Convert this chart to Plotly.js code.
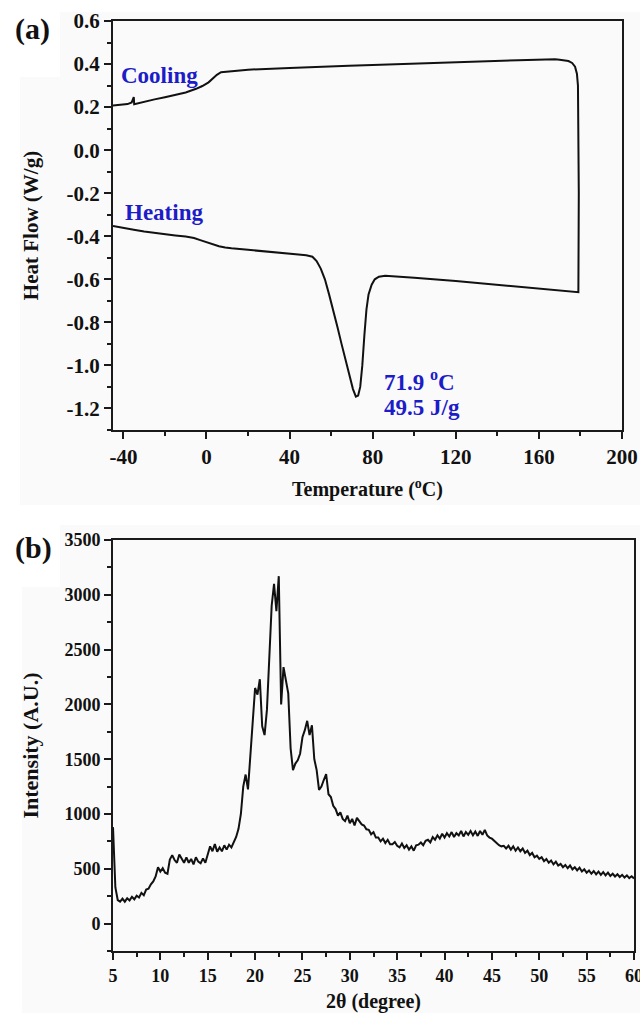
<!DOCTYPE html>
<html>
<head>
<meta charset="utf-8">
<script src="https://cdn.plot.ly/plotly-3.0.1.min.js"></script>
<style>
html,body{margin:0;padding:0;background:#fff;}
#chart{width:640px;height:1013px;}
</style>
</head>
<body>
<div id="chart"></div>
<script>
// ---------- DSC data (Temperature in °C, Heat flow in W/g) ----------
const dscHeatT  = [-45,-40,-35,-30,-25,-20,-15,-10,-6,-3,0,3,6,9,12,20,30,40,48,51,53,55,57,59,61,63,65,67,69,70.5,71.9,73,74,75,76,77,78,79.5,81,83,86,90,100,120,140,160,179];
const dscHeatHF = [-0.352,-0.362,-0.370,-0.378,-0.385,-0.391,-0.396,-0.401,-0.408,-0.418,-0.428,-0.438,-0.446,-0.452,-0.456,-0.463,-0.472,-0.481,-0.488,-0.495,-0.515,-0.55,-0.60,-0.67,-0.74,-0.82,-0.90,-0.98,-1.06,-1.11,-1.145,-1.14,-1.10,-1.00,-0.86,-0.74,-0.67,-0.625,-0.60,-0.588,-0.583,-0.585,-0.593,-0.608,-0.625,-0.642,-0.660];
const dscCoolT  = [179,179.2,179.1,178.8,178.3,177.4,176,174.2,170,167.8,150,120,100,80,68.6,60,40,20,10,7,5,3,1,-2,-5,-10,-15,-20,-25,-30,-34.8,-35,-36,-38,-41,-45];
const dscCoolHF = [-0.660,-0.20,0.15,0.30,0.355,0.388,0.405,0.414,0.420,0.422,0.418,0.410,0.403,0.396,0.392,0.388,0.382,0.374,0.367,0.362,0.350,0.332,0.315,0.298,0.285,0.268,0.256,0.246,0.236,0.225,0.213,0.247,0.222,0.214,0.210,0.207];

// ---------- XRD data (2θ from 5 to 60 in steps of 0.25) ----------
const xrdStart = 5, xrdStep = 0.25;
const xrdIntensity = [
 880,330,215,200,  228,200,232,212,  245,222,255,238,  280,258,310,318,
 358,385,430,515,  475,505,465,455,  585,625,580,555,  630,585,555,605,
 555,590,540,605,  565,550,595,555,  625,705,660,725,  655,695,660,715,
 675,720,695,750,  790,865,1000,1250, 1360,1225,1560,1900, 2150,2090,2230,1800,
 1720,1950,2450,2900, 3100,2850,3170,2000, 2340,2200,2100,1600, 1400,1460,1490,1550,
 1700,1765,1850,1720, 1810,1500,1400,1220, 1250,1310,1365,1180, 1155,1075,1045,985,
 1015,955,935,985,  915,955,895,965,  935,905,895,860,  855,815,835,785,
 785,750,775,735,  765,725,725,745,  710,695,730,690,  715,675,705,665,
 715,720,740,715,  755,765,740,790,  765,805,775,820,  785,825,795,835,
 790,825,805,845,  795,835,810,845,  805,840,800,845,  810,855,805,785,
 775,755,735,715,  705,710,685,710,  675,705,665,695,  660,685,645,665,
 625,645,605,620,  590,605,570,590,  555,575,540,565,  530,545,515,535,
 505,530,495,515,  485,510,475,495,  465,485,455,480,  450,475,445,470,
 440,465,435,455,  430,450,425,445,  420,440,415,432,  412
];
const xrdTheta = xrdIntensity.map((_, i) => xrdStart + i * xrdStep);

// ---------- tick labels ----------
const tempTicks = [-40,0,40,80,120,160,200];
const tempTickText = ['-40','0','40','80','120','160','200'];
const hfTicks = [0.6,0.4,0.2,0.0,-0.2,-0.4,-0.6,-0.8,-1.0,-1.2];
const hfTickText = ['0.6','0.4','0.2','0.0','-0.2','-0.4','-0.6','-0.8','-1.0','-1.2'];
const thetaTicks = [5,10,15,20,25,30,35,40,45,50,55,60];
const intTicks = [0,500,1000,1500,2000,2500,3000,3500];

// ---------- text ----------
const labelA = '(a)', labelB = '(b)';
const coolingLabel = 'Cooling', heatingLabel = 'Heating';
const peakTempLabel = '71.9 <sup>o</sup>C', enthalpyLabel = '49.5 J/g';

const W = 640, H = 1013;
const px = v => v / W;
const py = v => 1 - v / H;

const serif = 'Liberation Serif, Times New Roman, serif';
const blue = '#1c1cc8';
const axisCol = '#1a1a1a';

const traces = [
  {x: dscHeatT.concat(dscCoolT), y: dscHeatHF.concat(dscCoolHF), xaxis: 'x', yaxis: 'y',
   mode: 'lines', line: {color: '#111', width: 2}, hoverinfo: 'skip', showlegend: false},
  {x: xrdTheta, y: xrdIntensity, xaxis: 'x2', yaxis: 'y2',
   mode: 'lines', line: {color: '#111', width: 2}, hoverinfo: 'skip', showlegend: false}
];

function baseAxis(extra) {
  return Object.assign({
    showgrid: false, zeroline: false, showline: true, mirror: true,
    linecolor: axisCol, linewidth: 2, ticks: 'outside', ticklen: 7, tickwidth: 2,
    tickcolor: axisCol, fixedrange: true, ticklabeloverflow: 'allow',
    tickfont: {family: serif, size: 18, color: '#111', weight: 'bold'}
  }, extra);
}

const layout = {
  width: W, height: H,
  margin: {l: 0, r: 0, t: 0, b: 0},
  paper_bgcolor: '#ffffff',
  plot_bgcolor: '#fafafa',
  showlegend: false,
  xaxis: baseAxis({
    domain: [px(113), px(622)], anchor: 'y', range: [-45, 200],
    tickvals: tempTicks, ticktext: tempTickText,
    minor: {dtick: 20, tick0: -40, ticks: 'outside', ticklen: 4, tickwidth: 2, tickcolor: axisCol},
    tickfont: {family: serif, size: 21, color: '#111', weight: 'bold'},
    title: {text: 'Temperature (<sup>o</sup>C)', standoff: 14,
            font: {family: serif, size: 20, color: '#111', weight: 'bold'}}
  }),
  yaxis: baseAxis({
    domain: [py(430), py(21)], anchor: 'x', range: [-1.3, 0.6],
    tickvals: hfTicks, ticktext: hfTickText,
    minor: {dtick: 0.1, tick0: 0, ticks: 'outside', ticklen: 4, tickwidth: 2, tickcolor: axisCol},
    tickfont: {family: serif, size: 21, color: '#111', weight: 'bold'},
    title: {text: 'Heat Flow (W/g)', standoff: 22,
            font: {family: serif, size: 21, color: '#111', weight: 'bold'}}
  }),
  xaxis2: baseAxis({
    domain: [px(113), px(634)], anchor: 'y2', range: [5, 60],
    tickvals: thetaTicks,
    minor: {dtick: 2.5, tick0: 5, ticks: 'outside', ticklen: 4, tickwidth: 2, tickcolor: axisCol},
    title: {text: '2θ (degree)', standoff: 12,
            font: {family: serif, size: 20, color: '#111', weight: 'bold'}}
  }),
  yaxis2: baseAxis({
    domain: [py(951), py(540)], anchor: 'x2', range: [-250, 3500],
    tickvals: intTicks,
    minor: {dtick: 250, tick0: 0, ticks: 'outside', ticklen: 4, tickwidth: 2, tickcolor: axisCol},
    title: {text: 'Intensity (A.U.)', standoff: 20,
            font: {family: serif, size: 22, color: '#111', weight: 'bold'}}
  }),
  shapes: [
    {type: 'rect', xref: 'paper', yref: 'paper', x0: px(20), x1: 1, y0: py(505), y1: py(12),
     fillcolor: '#fafafa', line: {width: 0}, layer: 'below'},
    {type: 'rect', xref: 'paper', yref: 'paper', x0: px(22), x1: 1, y0: 0, y1: py(525),
     fillcolor: '#fafafa', line: {width: 0}, layer: 'below'},
    {type: 'rect', xref: 'paper', yref: 'paper', x0: px(20), x1: px(60), y0: py(77), y1: py(12),
     fillcolor: '#ffffff', line: {width: 0}, layer: 'below'},
    {type: 'rect', xref: 'paper', yref: 'paper', x0: px(22), x1: px(60), y0: py(587), y1: py(525),
     fillcolor: '#ffffff', line: {width: 0}, layer: 'below'}
  ],
  annotations: [
    {xref: 'paper', yref: 'paper', x: px(32), y: py(29), text: labelA, showarrow: false,
     xanchor: 'center', yanchor: 'middle', font: {family: serif, size: 30, color: '#111', weight: 'bold'}},
    {xref: 'paper', yref: 'paper', x: px(33), y: py(548), text: labelB, showarrow: false,
     xanchor: 'center', yanchor: 'middle', font: {family: serif, size: 30, color: '#111', weight: 'bold'}},
    {xref: 'x', yref: 'y', x: -22.6, y: 0.349, text: coolingLabel, showarrow: false,
     xanchor: 'center', yanchor: 'middle', font: {family: serif, size: 23, color: blue, weight: 'bold'}},
    {xref: 'x', yref: 'y', x: -20.6, y: -0.288, text: heatingLabel, showarrow: false,
     xanchor: 'center', yanchor: 'middle', font: {family: serif, size: 23, color: blue, weight: 'bold'}},
    {xref: 'x', yref: 'y', x: 84.5, y: -1.07, text: peakTempLabel, showarrow: false,
     xanchor: 'left', yanchor: 'middle', font: {family: serif, size: 23, color: blue, weight: 'bold'}},
    {xref: 'x', yref: 'y', x: 84.5, y: -1.195, text: enthalpyLabel, showarrow: false,
     xanchor: 'left', yanchor: 'middle', font: {family: serif, size: 23, color: blue, weight: 'bold'}}
  ]
};

Plotly.newPlot('chart', traces, layout, {staticPlot: true, displayModeBar: false});
</script>
</body>
</html>
